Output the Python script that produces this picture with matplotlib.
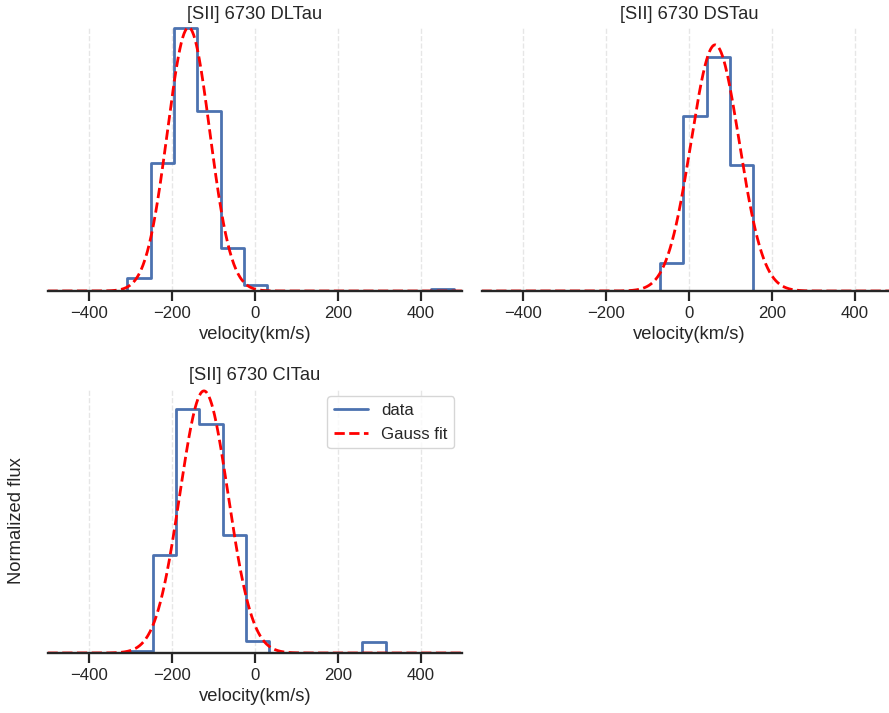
import numpy as np
import matplotlib
matplotlib.use("Agg")
import matplotlib.pyplot as plt
import seaborn as sns

# velocity grids (km/s) and normalized flux for each star
vel_dltau = [-504.2, -448.0, -391.8, -335.6, -279.4, -223.2, -167.0, -110.8, -54.6, 1.6,
             57.8, 114.0, 170.2, 226.4, 282.6, 338.8, 395.0, 451.2, 507.4]
flux_dltau = [0, 0, 0, 0, 0.048, 0.487, 1.0, 0.684, 0.162, 0.023,
              0, 0, 0, 0, 0, 0, 0, 0.006, 0]

vel_dstau = [-486.9, -431.2, -375.5, -319.8, -264.1, -208.4, -152.7, -97.0, -41.3, 14.4,
             70.1, 125.8, 181.5, 237.2, 292.9, 348.6, 404.3, 460.0, 515.7]
flux_dstau = [0, 0, 0, 0, 0, 0, 0, 0, 0.105, 0.668,
              0.89, 0.479, 0, 0, 0, 0, 0, 0, 0]

vel_citau = [-498.5, -442.4, -386.3, -330.2, -274.1, -218.0, -161.9, -105.8, -49.7, 6.4,
             62.5, 118.6, 174.7, 230.8, 286.9, 343.0, 399.1, 455.2, 511.3]
flux_citau = [0, 0, 0, 0, 0.008, 0.373, 0.927, 0.867, 0.449, 0.044,
              0, 0, 0, 0, 0.041, 0, 0, 0, 0]

# gauss fit parameters: amplitude, center, sigma
fit_dltau = [1.003, -160.0, 51.0]
fit_dstau = [0.937, 63.0, 58.0]
fit_citau = [0.994, -123.0, 58.0]

names = ["DLTau", "DSTau", "CITau"]

sns.set_theme(style="ticks", font_scale=1.1)
plt.rcParams['font.family'] = ['Liberation Sans', 'DejaVu Sans']
plt.rcParams['axes.linewidth'] = 1.7
plt.rcParams['xtick.major.width'] = 1.6
plt.rcParams['xtick.major.size'] = 7

W, H = 889, 713
fig = plt.figure(figsize=(W / 100, H / 100), dpi=100)

# axes boxes in pixels: left, top, width, height
boxes = [(47.5, 27, 415, 264), (481.5, 27, 415, 264), (47.5, 388, 415, 265)]
datasets = [(vel_dltau, flux_dltau, fit_dltau),
            (vel_dstau, flux_dstau, fit_dstau),
            (vel_citau, flux_citau, fit_citau)]

x_fit = np.linspace(-500, 500, 600)

for i, (box, (vel, flux, fit), name) in enumerate(zip(boxes, datasets, names)):
    l, t, w, h = box
    ax = fig.add_axes([l / W, (H - t - h) / H, w / W, h / H])
    ax.step(vel, flux, where='mid', color='#4C72B0', lw=2, label='data')
    amp, cen, sig = fit
    ax.plot(x_fit, amp * np.exp(-0.5 * ((x_fit - cen) / sig) ** 2),
            color='red', ls='--', lw=2, label='Gauss fit')
    ax.set_xlim(-500, 500)
    ax.set_ylim(0, 1.005)
    ax.set_xticks([-400, -200, 0, 200, 400])
    ax.set_yticks([])
    ax.xaxis.grid(True, color='0.9', ls='--', lw=1)
    ax.set_axisbelow(True)
    ax.set_xlabel('velocity(km/s)')
    ax.set_title(f'[SII] 6730 {name}')
    sns.despine(ax=ax, left=True)
    if i == 2:
        ax.set_ylabel('Normalized flux', labelpad=16)
        ax.legend(loc='upper right')

plt.savefig('out.png', dpi=100)
plt.close()
